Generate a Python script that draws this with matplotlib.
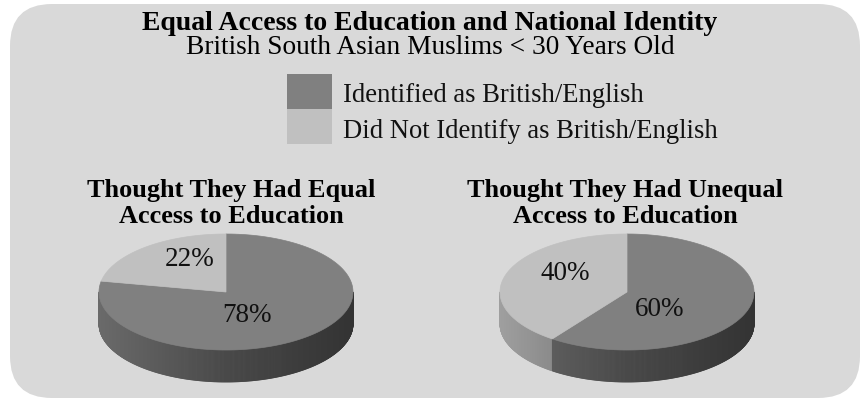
import numpy as np
import matplotlib
matplotlib.use("Agg")
import matplotlib.pyplot as plt
from matplotlib.patches import FancyBboxPatch, Polygon, Rectangle
from matplotlib.collections import PolyCollection

# ---- data ----
title = "Equal Access to Education and National Identity"
subtitle = "British South Asian Muslims < 30 Years Old"
series_names = ["Identified as British/English", "Did Not Identify as British/English"]
pie_titles = [["Thought They Had Equal", "Access to Education"],
              ["Thought They Had Unequal", "Access to Education"]]
equal_access = [78, 22]
unequal_access = [60, 40]

# ---- style ----
base_grey = [128, 192]          # top-face grey levels for the two series
bg_color = "#d9d9d9"
serif = ["Liberation Serif", "DejaVu Serif"]
W, H = 860, 398

fig = plt.figure(figsize=(W / 100, H / 100), dpi=100)
ax = fig.add_axes([0, 0, 1, 1])
ax.set_xlim(0, W)
ax.set_ylim(H, 0)
ax.axis("off")

ax.add_patch(FancyBboxPatch((10, 4), 850, 394,
                            boxstyle="round,pad=0,rounding_size=42",
                            fc=bg_color, ec="none"))


def grey(level, factor=1.0):
    v = np.clip(level * factor, 0, 255) / 255.0
    return (v, v, v)


def side_factor(c):
    # lighter on the left of the rim, darker on the right
    return np.interp(c, [-1, 0, 1], [0.83, 0.57, 0.40])


def pie3d(values, cx, cy, a, b, depth, start=90.0):
    vals = np.asarray(values, float)
    fr = vals / vals.sum()
    bounds = np.concatenate([[0], np.cumsum(fr)])

    def slice_at(t):
        d = ((start - t) % 360.0) / 360.0
        return int(np.clip(np.searchsorted(bounds, d, side="right") - 1, 0, len(fr) - 1))

    # side wall (front half of the ellipse)
    ts = np.linspace(180, 360, 361)
    polys, cols = [], []
    for t0, t1 in zip(ts[:-1], ts[1:]):
        tm = 0.5 * (t0 + t1)
        k = slice_at(tm)
        r0, r1 = np.radians(t0), np.radians(t1)
        x0, y0 = cx + a * np.cos(r0), cy - b * np.sin(r0)
        x1, y1 = cx + a * np.cos(r1), cy - b * np.sin(r1)
        polys.append([(x0, y0), (x1, y1), (x1, y1 + depth), (x0, y0 + depth)])
        cols.append(grey(base_grey[k], side_factor(np.cos(np.radians(tm)))))
    ax.add_collection(PolyCollection(polys, facecolors=cols, edgecolors=cols,
                                     linewidths=0.6))

    # top faces
    for k in range(len(fr)):
        t_hi = start - bounds[k] * 360
        t_lo = start - bounds[k + 1] * 360
        tt = np.radians(np.linspace(t_hi, t_lo, 200))
        pts = [(cx, cy)] + list(zip(cx + a * np.cos(tt), cy - b * np.sin(tt)))
        ax.add_patch(Polygon(pts, closed=True, fc=grey(base_grey[k]),
                             ec=grey(base_grey[k]), lw=0.5))


pie3d(equal_access, 226, 292, 127, 58, 32)
pie3d(unequal_access, 627, 292, 127, 58, 32)

# value labels
label_pos = [[(247, 315), (190, 260)], [(660, 310), (565, 273)]]
for vals, poss in zip([equal_access, unequal_access], label_pos):
    for v, (x, y) in zip(vals, poss):
        ax.text(x, y, f"{v}%", ha="center", va="center", family=serif,
                fontsize=19.5, color="#111111")

# titles
ax.text(430, 20, title, ha="center", va="center_baseline", family=serif,
        fontsize=20, fontweight="bold", color="black")
ax.text(430, 45, subtitle, ha="center", va="center_baseline", family=serif,
        fontsize=19.7, color="black")

for x, lines in zip([231, 625], pie_titles):
    for j, line in enumerate(lines):
        ax.text(x, 188 + 26 * j, line, ha="center", va="center_baseline",
                family=serif, fontsize=18.9, fontweight="bold", color="black")

# legend
for i, name in enumerate(series_names):
    y0 = 74 + 35 * i
    ax.add_patch(Rectangle((287, y0), 45, 35, fc=grey(base_grey[i]), ec="none"))
    ax.text(343, y0 + 19, name, ha="left", va="center_baseline", family=serif,
            fontsize=19.2, color="#111111")

fig.savefig("out.png", dpi=100, facecolor="white")
